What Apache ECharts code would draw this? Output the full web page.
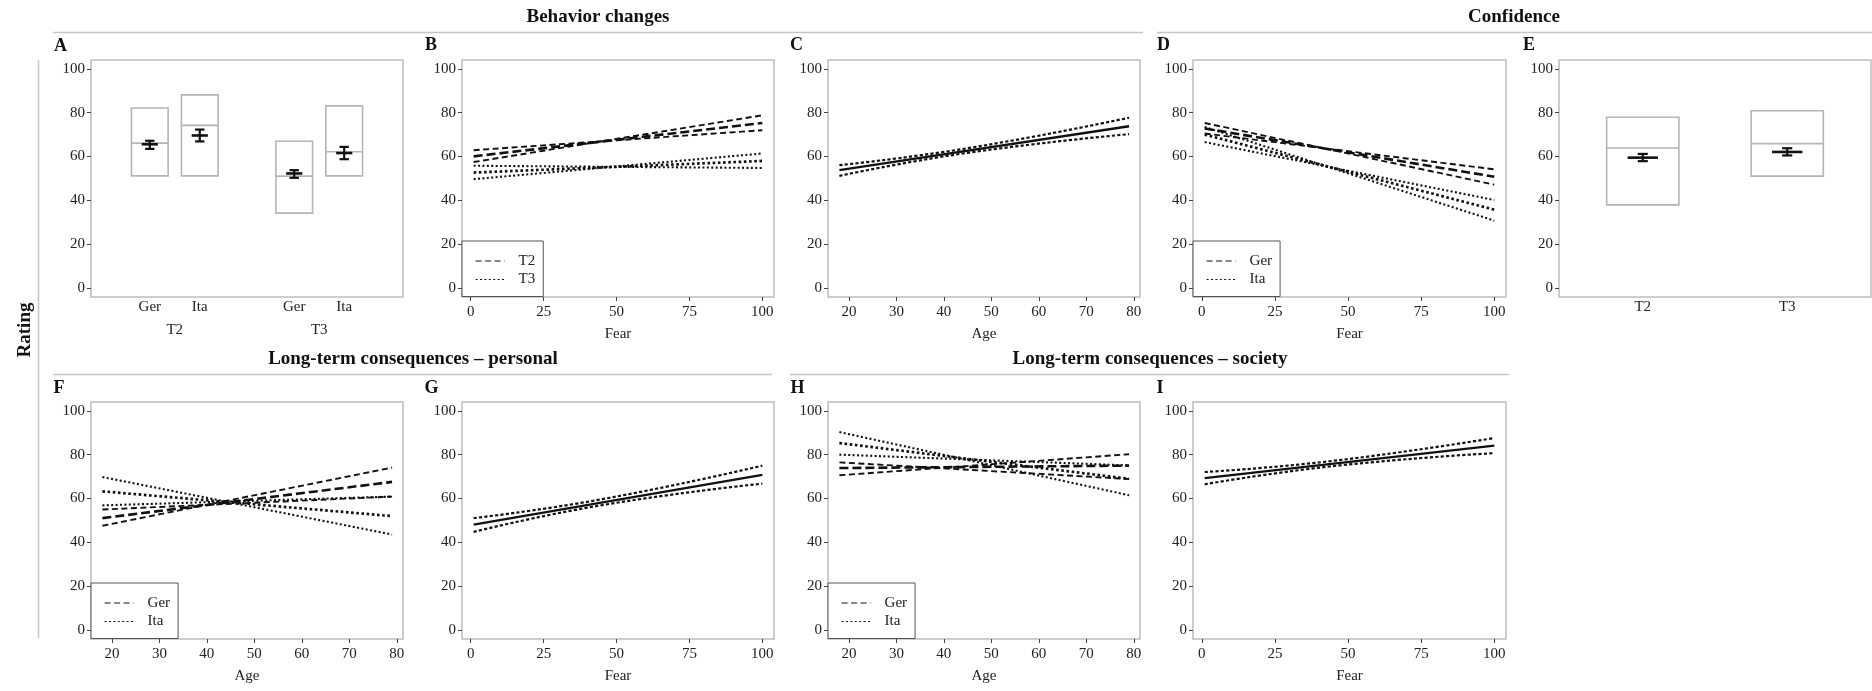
<!DOCTYPE html>
<html>
<head>
<meta charset="utf-8">
<script src="https://cdn.jsdelivr.net/npm/echarts@6/dist/echarts.min.js"></script>
<style>html,body{margin:0;padding:0;background:#fff}#c{width:1872px;height:691px}</style>
</head>
<body>
<div id="c"></div>
<script>
// ---------------- DATA ----------------
const yTicks = [0, 20, 40, 60, 80, 100];
const fearTicks = [0, 25, 50, 75, 100];
const ageTicks = [20, 30, 40, 50, 60, 70, 80];

// Panel A: behavior changes by wave and country (order: Ger T2, Ita T2, Ger T3, Ita T3)
const aTimes = ['T2', 'T3'];
const aGroups = ['Ger', 'Ita'];
const aBoxLow  = [51.2, 51.2, 34.2, 51.2];
const aBoxMed  = [66.1, 74.2, 51.1, 62.2];
const aBoxHigh = [82.1, 88.1, 67.0, 83.1];
const aMean    = [65.6, 69.6, 52.3, 61.6];
const aCiLow   = [63.5, 66.9, 50.3, 58.8];
const aCiHigh  = [67.2, 72.3, 53.8, 64.4];

// Panel E: confidence by wave
const eTimes = ['T2', 'T3'];
const eBoxLow  = [38.0, 51.1];
const eBoxMed  = [63.9, 65.9];
const eBoxHigh = [77.9, 80.9];
const eMean    = [59.5, 62.1];
const eCiLow   = [57.9, 60.5];
const eCiHigh  = [61.2, 63.8];

// x values of the fitted lines
const fearX = [1, 100];
const ageX = [18, 79];
const fearCiX = [1, 45, 100];
const ageCiX = [18, 45, 79];

// Panel B: behavior changes ~ fear (rows: lower-slope, fit, higher-slope), start/end
const bT2 = [[62.9, 72.0], [60.1, 75.3], [57.5, 78.8]];
const bT3 = [[55.8, 54.8], [52.7, 58.0], [49.7, 61.4]];

// Panel C: behavior changes ~ age
const cFit = [53.8, 73.8];
const cUpper = [56.1, 63.8, 77.7];
const cLower = [51.2, 61.7, 70.2];

// Panel D: confidence ~ fear
const dGer = [[70.5, 54.2], [72.8, 50.8], [75.3, 47.2]];
const dIta = [[66.6, 40.2], [70.0, 35.8], [73.5, 30.8]];

// Panel F: long-term personal ~ age
const fGer = [[55.0, 60.9], [51.1, 67.6], [47.6, 74.1]];
const fIta = [[56.9, 60.9], [63.3, 52.0], [69.8, 43.6]];

// Panel G: long-term personal ~ fear
const gFit = [48.1, 70.8];
const gUpper = [51.1, 59.7, 75.0];
const gLower = [44.8, 57.0, 66.8];

// Panel H: long-term society ~ age
const hGer = [[76.5, 68.9], [73.9, 75.0], [70.6, 80.2]];
const hIta = [[80.0, 75.1], [85.3, 69.0], [90.3, 61.5]];

// Panel I: long-term society ~ fear
const iFit = [69.3, 84.1];
const iUpper = [72.1, 77.2, 87.6];
const iLower = [66.5, 74.8, 80.7];

// ---------------- STYLE / LAYOUT ----------------
const FONT = 'Liberation Serif';
const GRAY = '#bdbdbd';
const INK = '#111';
const TXT = '#222';
const DODGE = 0.173;

const rowTop = [60, 402];
const colLeft = [91, 462, 828, 1193, 1559];
const W = 312, H = 237;

const gridDefs = [
  [0, 0], [0, 1], [0, 2], [0, 3], [0, 4],
  [1, 0], [1, 1], [1, 2], [1, 3]
];
const grids = gridDefs.map(([r, c], i) => ({
  left: colLeft[c], top: rowTop[r], width: (c === 3 ? 313 : W), height: H,
  show: true, borderColor: GRAY, borderWidth: 1.5, backgroundColor: 'transparent', containLabel: false
}));

const labelStyle = { fontFamily: FONT, fontSize: 15, color: TXT };

function yAx(gi) {
  return {
    type: 'value', gridIndex: gi, min: -4, max: 104, position: 'left',
    axisLine: { show: false, onZero: false }, splitLine: { show: false },
    axisTick: { show: true, inside: false, length: 4, lineStyle: { color: '#444', width: 1 }, customValues: yTicks },
    axisLabel: Object.assign({ customValues: yTicks, margin: 6 }, labelStyle)
  };
}
function xAx(gi, min, max, ticks, name) {
  return {
    type: 'value', gridIndex: gi, min: min, max: max, position: 'bottom',
    axisLine: { show: false, onZero: false }, splitLine: { show: false },
    axisTick: { show: true, inside: false, length: 4, lineStyle: { color: '#444', width: 1 }, customValues: ticks },
    axisLabel: Object.assign({ customValues: ticks, margin: 8 }, labelStyle),
    name: name, nameLocation: 'middle', nameGap: 30, nameTextStyle: labelStyle
  };
}

// positions for panel A
const aPos = [], aLbl = [];
aTimes.forEach((t, ti) => aGroups.forEach((g, gi) => {
  aPos.push(ti + 1 + (gi === 0 ? -DODGE : DODGE));
  aLbl.push(g);
}));
const ePos = eTimes.map((t, i) => i + 1);

function catAx(gi, positions, labels, margin) {
  return {
    type: 'value', gridIndex: gi, min: 0.42, max: 2.58, position: 'bottom',
    axisLine: { show: false, onZero: false }, splitLine: { show: false }, axisTick: { show: false },
    axisLabel: Object.assign({
      customValues: positions, margin: margin,
      formatter: function (v) {
        let best = 0;
        positions.forEach((p, i) => { if (Math.abs(p - v) < Math.abs(positions[best] - v)) best = i; });
        return labels[best];
      }
    }, labelStyle)
  };
}

const xAxes = [
  catAx(0, aPos, aLbl, 3),
  xAx(1, -3, 104, fearTicks, 'Fear'),
  xAx(2, 15.6, 81.3, ageTicks, 'Age'),
  xAx(3, -3, 104, fearTicks, 'Fear'),
  catAx(4, ePos, eTimes, 3),
  xAx(5, 15.6, 81.3, ageTicks, 'Age'),
  xAx(6, -3, 104, fearTicks, 'Fear'),
  xAx(7, 15.6, 81.3, ageTicks, 'Age'),
  xAx(8, -3, 104, fearTicks, 'Fear'),
  catAx(0, [1, 2], aTimes, 26)
];
const yAxes = gridDefs.map((d, i) => yAx(i));

// ---------------- SERIES ----------------
const THIN_DASH = { color: INK, width: 1.9, type: [6, 3.5] };
const THICK_DASH = { color: INK, width: 2.6, type: [9, 4] };
const THIN_DOT = { color: INK, width: 2.1, type: [2, 2.4] };
const THICK_DOT = { color: INK, width: 2.7, type: [2.6, 2.6] };
const SOLID = { color: INK, width: 2.4, type: 'solid' };
const CI = { color: INK, width: 2.2, type: [3.2, 2.2] };

const series = [];
function addLine(name, xs, ys, gi, style, smooth) {
  series.push({
    type: 'line', name: name, xAxisIndex: gi, yAxisIndex: gi,
    data: xs.map((x, i) => [x, ys[i]]),
    symbol: 'none', showSymbol: false, lineStyle: style, itemStyle: { color: INK },
    smooth: !!smooth, silent: true, z: 3, emphasis: { disabled: true }
  });
}
function addFan(name, rows, xs, gi, thin, thick) {
  rows.forEach((r, i) => addLine(name, xs, r, gi, i === 1 ? thick : thin));
}
function addFitCi(gi, xs, fit, ciXs, up, lo) {
  addLine('CI ' + gi, ciXs, up, gi, CI, true);
  addLine('CI ' + gi, ciXs, lo, gi, CI, true);
  addLine('Fit ' + gi, xs, fit, gi, SOLID);
}

addFan('T2', bT2, fearX, 1, THIN_DASH, THICK_DASH);
addFan('T3', bT3, fearX, 1, THIN_DOT, THICK_DOT);
addFitCi(2, ageX, cFit, ageCiX, cUpper, cLower);
addFan('Ger', dGer, fearX, 3, THIN_DASH, THICK_DASH);
addFan('Ita', dIta, fearX, 3, THIN_DOT, THICK_DOT);
addFan('Ger', fGer, ageX, 5, THIN_DASH, THICK_DASH);
addFan('Ita', fIta, ageX, 5, THIN_DOT, THICK_DOT);
addFitCi(6, fearX, gFit, fearCiX, gUpper, gLower);
addFan('Ger', hGer, ageX, 7, THIN_DASH, THICK_DASH);
addFan('Ita', hIta, ageX, 7, THIN_DOT, THICK_DOT);
addFitCi(8, fearX, iFit, fearCiX, iUpper, iLower);

function boxRender(width) {
  return function (params, api) {
    const x = api.value(0);
    const lo = api.coord([x, api.value(1)]);
    const md = api.coord([x, api.value(2)]);
    const hi = api.coord([x, api.value(3)]);
    const w = api.size([width, 0])[0];
    const st = { fill: 'none', stroke: '#b5b5b5', lineWidth: 1.6 };
    return {
      type: 'group', children: [
        { type: 'rect', shape: { x: lo[0] - w / 2, y: hi[1], width: w, height: lo[1] - hi[1] }, style: st },
        { type: 'line', shape: { x1: lo[0] - w / 2, y1: md[1], x2: lo[0] + w / 2, y2: md[1] }, style: st }
      ]
    };
  };
}
function errRender(capW, meanW) {
  return function (params, api) {
    const x = api.value(0);
    const lo = api.coord([x, api.value(1)]);
    const md = api.coord([x, api.value(2)]);
    const hi = api.coord([x, api.value(3)]);
    const cw = api.size([capW, 0])[0] / 2;
    const mw = api.size([meanW, 0])[0] / 2;
    const st = { stroke: INK, lineWidth: 2.2 };
    return {
      type: 'group', children: [
        { type: 'line', shape: { x1: lo[0], y1: lo[1], x2: hi[0], y2: hi[1] }, style: st },
        { type: 'line', shape: { x1: lo[0] - cw, y1: lo[1], x2: lo[0] + cw, y2: lo[1] }, style: st },
        { type: 'line', shape: { x1: hi[0] - cw, y1: hi[1], x2: hi[0] + cw, y2: hi[1] }, style: st },
        { type: 'line', shape: { x1: md[0] - mw, y1: md[1], x2: md[0] + mw, y2: md[1] }, style: { stroke: INK, lineWidth: 2.6 } }
      ]
    };
  };
}
function addBoxes(gi, pos, low, med, high, mean, ciLo, ciHi, boxW, capW, meanW) {
  series.push({
    type: 'custom', name: 'box' + gi, xAxisIndex: gi, yAxisIndex: gi, silent: true, z: 2,
    renderItem: boxRender(boxW), encode: { x: 0, y: [1, 2, 3] },
    data: pos.map((p, i) => [p, low[i], med[i], high[i]])
  });
  series.push({
    type: 'custom', name: 'err' + gi, xAxisIndex: gi, yAxisIndex: gi, silent: true, z: 4,
    renderItem: errRender(capW, meanW), encode: { x: 0, y: [1, 2, 3] },
    data: pos.map((p, i) => [p, ciLo[i], mean[i], ciHi[i]])
  });
}
addBoxes(0, aPos, aBoxLow, aBoxMed, aBoxHigh, aMean, aCiLow, aCiHigh, 0.254, 0.065, 0.112);
addBoxes(4, ePos, eBoxLow, eBoxMed, eBoxHigh, eMean, eCiLow, eCiHigh, 0.5, 0.07, 0.21);

// ---------------- LEGENDS ----------------
function leg(names, left, top) {
  return {
    data: names, left: left, top: top, orient: 'vertical', selectedMode: false,
    backgroundColor: '#fff', borderColor: '#555', borderWidth: 1, borderRadius: 0,
    padding: [12, 8, 9, 13], itemWidth: 29, itemHeight: 14, itemGap: 2.5,
    itemStyle: { opacity: 0, borderWidth: 0 },
    lineStyle: { color: INK, width: 1.2 },
    textStyle: { fontFamily: FONT, fontSize: 15, color: TXT, lineHeight: 16, padding: [0, 0, 0, 9] }
  };
}
const legends = [
  leg(['T2', 'T3'], 462, 241),
  leg(['Ger', 'Ita'], 1193, 241),
  leg(['Ger', 'Ita'], 91, 583),
  leg(['Ger', 'Ita'], 828, 583)
];

// ---------------- GRAPHIC TEXT ----------------
function txt(s, x, y, size, rot) {
  return {
    type: 'text', x: x, y: y, rotation: rot || 0, silent: true,
    style: {
      text: s, font: 'bold ' + size + 'px "' + FONT + '"', fill: INK,
      textAlign: 'center', textVerticalAlign: 'middle', align: 'center', verticalAlign: 'middle'
    }
  };
}
function hline(x1, x2, y) {
  return { type: 'line', silent: true, shape: { x1: x1, y1: y, x2: x2, y2: y }, style: { stroke: '#c6c6c6', lineWidth: 1.5 } };
}
const graphics = [
  txt('Behavior changes', 598, 17, 19),
  txt('Confidence', 1514, 17, 19),
  txt('Long-term consequences \u2013 personal', 413, 359, 19),
  txt('Long-term consequences \u2013 society', 1150, 359, 19),
  hline(53, 1143, 32.5), hline(1157, 1872, 32.5),
  hline(53, 772, 374.5), hline(790, 1509, 374.5),
  { type: 'line', silent: true, shape: { x1: 38.5, y1: 60, x2: 38.5, y2: 638 }, style: { stroke: '#c6c6c6', lineWidth: 1.5 } },
  txt('Rating', 25, 330, 19, Math.PI / 2),
  txt('A', 60.5, 46, 18), txt('B', 431, 45, 18), txt('C', 796.5, 45, 18),
  txt('D', 1163.5, 45, 18), txt('E', 1529, 45, 18),
  txt('F', 59, 388, 18), txt('G', 431.5, 388, 18), txt('H', 797.5, 388, 18), txt('I', 1160, 388, 18)
];

const chart = echarts.init(document.getElementById('c'), null, { renderer: 'canvas' });
chart.setOption({
  animation: false,
  backgroundColor: '#fff',
  textStyle: { fontFamily: FONT },
  grid: grids,
  xAxis: xAxes,
  yAxis: yAxes,
  legend: legends,
  series: series,
  graphic: graphics
});
</script>
</body>
</html>
